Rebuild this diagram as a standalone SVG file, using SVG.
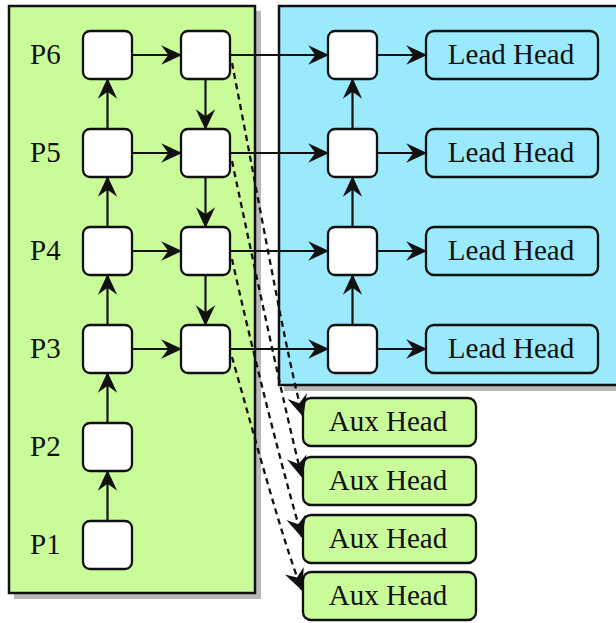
<svg xmlns="http://www.w3.org/2000/svg" width="616" height="623" viewBox="0 0 616 623">
<defs>
<style>
.panel{stroke:#111;stroke-width:2.5}
.shadow{fill:#b8b8b8}
.g{fill:#c9fb98}
.b{fill:#9ae9fd}
.node{fill:#fff;stroke:#111;stroke-width:2.3}
.head{stroke:#111;stroke-width:2.3}
text{font-family:"Liberation Serif","Times New Roman",serif;font-size:29px;fill:#111}
.c{text-anchor:middle}
.ln{stroke:#111;stroke-width:2.2;fill:none}
.ds{stroke:#111;stroke-width:2.3;fill:none;stroke-dasharray:6,4.5}
</style>
<marker id="ah" markerWidth="12" markerHeight="12" viewBox="-10 -6 12 12" refX="0" refY="0" orient="auto" overflow="visible">
<path d="M0.5,0 L-9,-4.4 L-5.8,0 L-9,4.4 Z" fill="#111"/>
</marker>
</defs>
<g id="panels">
<rect class="shadow" x="14" y="11" width="247" height="588"/>
<rect id="green-panel" class="panel g" x="9" y="6" width="246" height="587"/>
<rect class="shadow" x="284" y="11" width="340" height="380"/>
<rect id="blue-panel" class="panel b" x="279" y="6" width="345" height="379"/>
</g>
<g id="labels">
<text x="30" y="64">P6</text>
<text x="30" y="162">P5</text>
<text x="30" y="260">P4</text>
<text x="30" y="358">P3</text>
<text x="30" y="456">P2</text>
<text x="30" y="554">P1</text>
</g>
<g id="c1p6"><rect class="node" x="83" y="31" width="49" height="48" rx="7"/></g>
<g id="c1p5"><rect class="node" x="83" y="129" width="49" height="48" rx="7"/></g>
<g id="c1p4"><rect class="node" x="83" y="227" width="49" height="48" rx="7"/></g>
<g id="c1p3"><rect class="node" x="83" y="325" width="49" height="48" rx="7"/></g>
<g id="c1p2"><rect class="node" x="83" y="423" width="49" height="48" rx="7"/></g>
<g id="c1p1"><rect class="node" x="83" y="521" width="49" height="48" rx="7"/></g>
<g id="c2p6"><rect class="node" x="181" y="31" width="49" height="48" rx="7"/></g>
<g id="c2p5"><rect class="node" x="181" y="129" width="49" height="48" rx="7"/></g>
<g id="c2p4"><rect class="node" x="181" y="227" width="49" height="48" rx="7"/></g>
<g id="c2p3"><rect class="node" x="181" y="325" width="49" height="48" rx="7"/></g>
<g id="c3p6"><rect class="node" x="328" y="31" width="49" height="48" rx="7"/></g>
<g id="c3p5"><rect class="node" x="328" y="129" width="49" height="48" rx="7"/></g>
<g id="c3p4"><rect class="node" x="328" y="227" width="49" height="48" rx="7"/></g>
<g id="c3p3"><rect class="node" x="328" y="325" width="49" height="48" rx="7"/></g>
<g id="lead1"><rect class="head b" x="426" y="31" width="172" height="48" rx="8"/><text class="c" x="511" y="64">Lead Head</text></g>
<g id="lead2"><rect class="head b" x="426" y="129" width="172" height="48" rx="8"/><text class="c" x="511" y="162">Lead Head</text></g>
<g id="lead3"><rect class="head b" x="426" y="227" width="172" height="48" rx="8"/><text class="c" x="511" y="260">Lead Head</text></g>
<g id="lead4"><rect class="head b" x="426" y="325" width="172" height="48" rx="8"/><text class="c" x="511" y="358">Lead Head</text></g>
<g id="aux1"><rect class="head g" x="303" y="398" width="173" height="48" rx="8"/><text class="c" x="388" y="431">Aux Head</text></g>
<g id="aux2"><rect class="head g" x="303" y="457" width="173" height="48" rx="8"/><text class="c" x="388" y="490">Aux Head</text></g>
<g id="aux3"><rect class="head g" x="303" y="515" width="173" height="48" rx="8"/><text class="c" x="388" y="548">Aux Head</text></g>
<g id="aux4"><rect class="head g" x="303" y="572" width="173" height="48" rx="8"/><text class="c" x="388" y="605">Aux Head</text></g>
<g id="connectors">
<path class="ln" d="M132,55 H181" marker-end="url(#ah)"/>
<path class="ln" d="M132,153 H181" marker-end="url(#ah)"/>
<path class="ln" d="M132,251 H181" marker-end="url(#ah)"/>
<path class="ln" d="M132,349 H181" marker-end="url(#ah)"/>
<path class="ln" d="M107.5,521 V471" marker-end="url(#ah)"/>
<path class="ln" d="M107.5,423 V373" marker-end="url(#ah)"/>
<path class="ln" d="M107.5,325 V275" marker-end="url(#ah)"/>
<path class="ln" d="M107.5,227 V177" marker-end="url(#ah)"/>
<path class="ln" d="M107.5,129 V79" marker-end="url(#ah)"/>
<path class="ln" d="M205.5,79 V129" marker-end="url(#ah)"/>
<path class="ln" d="M205.5,177 V227" marker-end="url(#ah)"/>
<path class="ln" d="M205.5,275 V325" marker-end="url(#ah)"/>
<path class="ln" d="M230,55 H328" marker-end="url(#ah)"/>
<path class="ln" d="M230,153 H328" marker-end="url(#ah)"/>
<path class="ln" d="M230,251 H328" marker-end="url(#ah)"/>
<path class="ln" d="M230,349 H328" marker-end="url(#ah)"/>
<path class="ln" d="M352.5,325 V275" marker-end="url(#ah)"/>
<path class="ln" d="M352.5,227 V177" marker-end="url(#ah)"/>
<path class="ln" d="M352.5,129 V79" marker-end="url(#ah)"/>
<path class="ln" d="M377,55 H426" marker-end="url(#ah)"/>
<path class="ln" d="M377,153 H426" marker-end="url(#ah)"/>
<path class="ln" d="M377,251 H426" marker-end="url(#ah)"/>
<path class="ln" d="M377,349 H426" marker-end="url(#ah)"/>
<path class="ds" d="M232,63 C258,195 288,365 303,416" marker-end="url(#ah)"/>
<path class="ds" d="M232,161 C255,270 287,420 302,477" marker-end="url(#ah)"/>
<path class="ds" d="M232,259 C252,350 285,480 302,537" marker-end="url(#ah)"/>
<path class="ds" d="M232,357 C250,420 282,540 302,590" marker-end="url(#ah)"/>
</g>
</svg>
